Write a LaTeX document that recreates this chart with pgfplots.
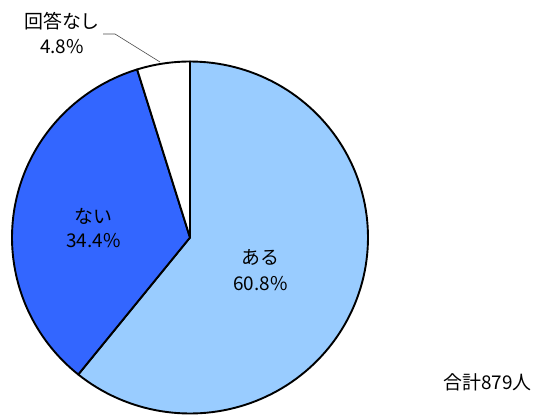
\documentclass[border=0pt]{standalone}
\usepackage{pgfplots}
\pgfplotsset{compat=1.18}
\usepackage{pgfplotstable}
\usepackage{fontspec}
\setmainfont{Noto Sans CJK JP}
\definecolor{aru}{HTML}{99CCFF}
\definecolor{nai}{HTML}{3366FF}
\pgfplotstableread{
value
60.8
34.4
4.8
}\piedata
\begin{document}
\begin{tikzpicture}
\pgfplotstablegetelem{0}{value}\of\piedata \let\va\pgfplotsretval
\pgfplotstablegetelem{1}{value}\of\piedata \let\vb\pgfplotsretval
\pgfplotstablegetelem{2}{value}\of\piedata \let\vc\pgfplotsretval
\pgfmathsetmacro{\aA}{90}
\pgfmathsetmacro{\aB}{90-3.6*\va}
\pgfmathsetmacro{\aC}{\aB-3.6*\vb}
\pgfmathsetmacro{\aD}{\aC-3.6*\vc}
\begin{axis}[
  x=1bp, y=1bp,
  xmin=0, xmax=536, ymin=0, ymax=414,
  hide axis, clip=false,
  scale only axis,
]
\path (axis cs:0,0) rectangle (axis cs:536,414);
\addplot[fill=aru, draw=black, line width=1.9bp, line join=round, domain=\aB:\aA, samples=120, variable=\t]
  ({190+178*cos(\t)},{176.5+176*sin(\t)}) -- (axis cs:190,176.5) -- cycle;
\addplot[fill=nai, draw=black, line width=1.9bp, line join=round, domain=\aC:\aB, samples=80, variable=\t]
  ({190+178*cos(\t)},{176.5+176*sin(\t)}) -- (axis cs:190,176.5) -- cycle;
\addplot[fill=white, draw=black, line width=1.9bp, line join=round, domain=\aD:\aC, samples=20, variable=\t]
  ({190+178*cos(\t)},{176.5+176*sin(\t)}) -- (axis cs:190,176.5) -- cycle;
\draw[gray!60!black, line width=0.6bp] (axis cs:103,380) -- (axis cs:115,380) -- (axis cs:160,352);
\node[font=\fontsize{19}{22}\selectfont] at (axis cs:62,393) {回答なし};
\node[font=\fontsize{19}{22}\selectfont] at (axis cs:62,367) {4.8\%};
\node[font=\fontsize{19}{22}\selectfont] at (axis cs:93.5,198) {ない};
\node[font=\fontsize{19}{22}\selectfont] at (axis cs:93.5,173) {34.4\%};
\node[font=\fontsize{19}{22}\selectfont] at (axis cs:260,156.5) {ある};
\node[font=\fontsize{19}{22}\selectfont] at (axis cs:260.5,130) {60.8\%};
\node[font=\fontsize{19}{22}\selectfont, anchor=east] at (axis cs:535,31.5) {合計879人};
\end{axis}
\end{tikzpicture}
\end{document}
